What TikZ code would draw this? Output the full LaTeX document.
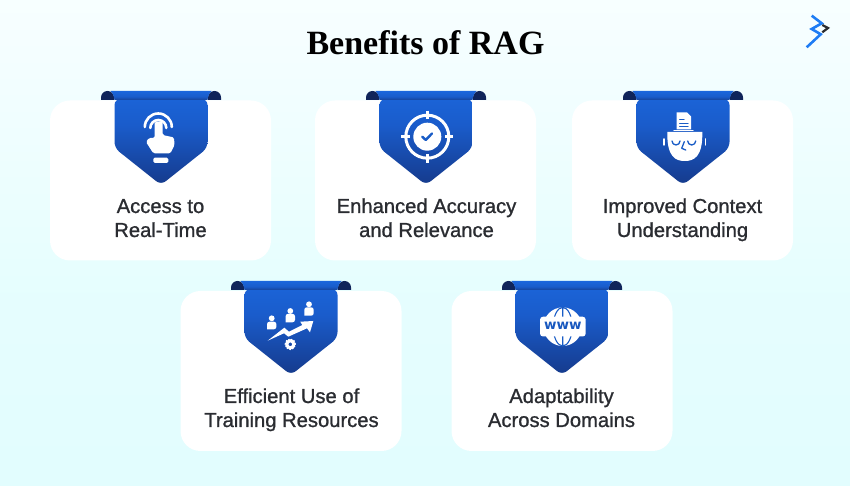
\documentclass[tikz,border=0pt]{standalone}
\usepackage{fontspec}
\setmainfont{Liberation Serif}
\newfontfamily\labelfont[FakeBold=1]{Liberation Sans}
\newfontfamily\wwwfont{DejaVu Sans}
\definecolor{ribbonblue}{HTML}{1C6FEA}
\definecolor{ribbonmid}{HTML}{1A5CCB}
\definecolor{ribbonlow}{HTML}{163F95}
\definecolor{ribbonnavy}{HTML}{10245A}
\definecolor{inkdark}{HTML}{2A2C31}
\definecolor{skytint}{HTML}{DDFDFE}
\definecolor{logoblue}{HTML}{1E7CF4}
\pgfdeclareverticalshading{ribbonfade}{100bp}{color(0bp)=(ribbonnavy); color(30bp)=(ribbonlow); color(60bp)=(ribbonmid); color(100bp)=(ribbonblue)}
\pgfdeclareverticalshading{barfade}{100bp}{color(0bp)=(ribbonnavy); color(45bp)=(ribbonmid); color(100bp)=(ribbonblue)}
\pgfdeclareverticalshading{pagefade}{100bp}{color(0bp)=(skytint); color(45bp)=(skytint!75!white); color(88bp)=(white); color(100bp)=(white)}
\tikzset{
  card/.style={rectangle, fill=white, draw=none, rounded corners=20pt, minimum width=221pt, minimum height=160pt, inner sep=0pt},
  cardlabel/.style={align=center, text=inkdark, font=\labelfont\fontsize{20.2}{24}\selectfont, inner sep=0pt, text height=37pt, text depth=5pt},
  icon/.style={fill=white, draw=none},
  iconline/.style={draw=white, line cap=round, line join=round},
  mark blue/.style={draw=ribbonblue!75!ribbonnavy, line cap=round, line join=round}
}
\newcommand{\ribbon}[2]{%
  \begin{scope}[shift={(#1,#2)}]
  \fill [ribbonnavy] (-60,-9) -- (-60,-6.5) arc (180:0:6.5) -- (-47,-9) -- cycle;
  \fill [ribbonnavy] (60,-9) -- (60,-6.5) arc (0:180:6.5) -- (47,-9) -- cycle;
  \shade [shading=ribbonfade, rounded corners=6pt] (-46.5,-8) -- (-46.5,-57) -- (0,-94) -- (46.5,-57) -- (46.5,-8) -- cycle;
  \shade [shading=barfade] (-50.5,0) -- (50.5,0) .. controls (48.5,-1.5) and (47,-5) .. (46.5,-9) -- (-46.5,-9) .. controls (-47,-5) and (-48.5,-1.5) .. (-50.5,0) -- cycle;
  \end{scope}}
\begin{document}
\begin{tikzpicture}[x=1pt,y=1pt]
\useasboundingbox (0,0) rectangle (850,486);
\shade [shading=pagefade] (0,0) rectangle (850,486);
\node [font=\bfseries\fontsize{34}{40}\selectfont, text=black, inner sep=0pt] (title) at (425.5,443) {Benefits of RAG};
% logo
\draw [draw=logoblue, line width=2.6pt, line join=miter] (811.7,470.3) -- (821.7,462.7) -- (811.7,457) -- (820.7,451.7) -- (806.7,438.7);
\draw [draw=inkdark, line width=2.2pt] (822.3,461) -- (828,458) -- (822.3,453.7);
% cards
\node [card] (card1) at (160.5,305.5) {};
\node [card] (card2) at (425.5,305.5) {};
\node [card] (card3) at (682.5,305.5) {};
\node [card] (card4) at (291,115) {};
\node [card] (card5) at (562,115) {};
% ribbons
\ribbon{161}{395}
\ribbon{426}{395}
\ribbon{683}{395}
\ribbon{291}{205}
\ribbon{562}{205}
% touch icon
\begin{scope}[shift={(161,395)}]
\draw [iconline, line width=2.6pt] (-16.2,-36) arc (180:0:13.5);
\draw [iconline, line width=2.6pt] (-10.7,-37) arc (180:0:8);
\fill [icon, rounded corners=1.5pt] (-6.3,-47) -- (-6.3,-30.7) -- (1.7,-30.7) -- (1.7,-44) -- (13,-46.5) -- (13.5,-54) -- (9.5,-62.3) -- (-7.7,-62.3) -- (-15,-51) -- (-12,-47) -- cycle;
\fill [icon, rounded corners=1.5pt] (-7.7,-66.7) rectangle (7.3,-72);
\end{scope}
% target icon
\begin{scope}[shift={(426,395)}]
\draw [white, line width=3pt] (1.3,-45.7) circle (21.5);
\fill [icon] (1.3,-45.7) circle (14);
\draw [white, line width=3.5pt] (1.3,-19.7) -- (1.3,-28) (1.3,-63.4) -- (1.3,-71.7) (-24.7,-45.7) -- (-16.4,-45.7) (19,-45.7) -- (27.3,-45.7);
\draw [mark blue, line width=2.4pt] (-3.7,-45.7) -- (-0.3,-49) -- (6,-42.5);
\end{scope}
% head icon
\begin{scope}[shift={(683,395)}]
\fill [icon] (-6.3,-38.5) -- (-6.3,-21.3) -- (4,-21.3) -- (8,-25.5) -- (8,-38.5) -- cycle;
\draw [mark blue, line width=1pt] (-3.5,-29) -- (1,-29) (-3.5,-32.5) -- (5,-32.5) (-3.5,-36) -- (5,-36);
\draw [iconline, line width=1.2pt] (-9,-39.7) -- (10,-39.7);
\fill [icon] (-15.7,-41) -- (19.3,-41) .. controls (19.8,-66) and (11,-70) .. (1.8,-70) .. controls (-7.5,-70) and (-16.2,-66) .. (-15.7,-41) -- cycle;
\draw [iconline, line width=1.5pt] (-19,-48) -- (-19,-54) (22.5,-48) -- (22.5,-54);
\draw [mark blue, line width=1.3pt] (-11,-50) arc (180:360:4) (4.7,-50) arc (180:360:4) (1.3,-50.7) -- (-1.3,-57.3) -- (2.7,-59);
\end{scope}
% chart icon
\begin{scope}[shift={(291,205)}]
\fill [icon] (-19.3,-37.3) circle (2.9) (-0.7,-30) circle (2.9) (18,-23.3) circle (2.9);
\fill [icon, rounded corners=2.5pt] (-24,-48.3) -- (-24,-40.7) -- (-14.6,-40.7) -- (-14.6,-48.3) [sharp corners] -- cycle;
\fill [icon, rounded corners=2.5pt] (-5.4,-41.3) -- (-5.4,-32.8) -- (4,-32.8) -- (4,-41.3) [sharp corners] -- cycle;
\fill [icon, rounded corners=2.5pt] (13.3,-34.7) -- (13.3,-26.3) -- (22.7,-26.3) -- (22.7,-34.7) [sharp corners] -- cycle;
\fill [icon] (-23.3,-59.7) -- (-6.7,-46.7) -- (-2,-50.7) -- (11.3,-44) -- (9.3,-40.7) -- (22.3,-40) -- (19,-51.3) -- (16,-47.3) -- (-2.7,-55.7) -- (-7,-52.3) -- cycle;
\draw [white, line width=3pt] (-0.7,-63.3) circle (3.5);
\draw [white, line width=1.5pt, dash pattern=on 1.6pt off 1.15pt] (-0.7,-63.3) circle (5);
\end{scope}
% web icon
\begin{scope}[shift={(562,205)}]
\fill [icon] (0.7,-45.7) circle (19.3);
\draw [mark blue, line width=1.1pt] (0.7,-26.4) -- (0.7,-65) (0.7,-45.7) ellipse (9.5 and 19.3);
\fill [icon, rounded corners=3pt] (-22,-35.7) rectangle (23.7,-55.5);
\node [font=\wwwfont\bfseries\fontsize{13.5}{14}\selectfont, text=ribbonblue!70!ribbonnavy, inner sep=0pt] (webtext) at (0.9,-45.3) {www};
\end{scope}
% labels
\node [cardlabel] (label1) at (160.5,265) {Access to\\Real-Time};
\node [cardlabel] (label2) at (426.5,265) {Enhanced Accuracy\\and Relevance};
\node [cardlabel] (label3) at (682.5,265) {Improved Context\\Understanding};
\node [cardlabel] (label4) at (291.5,75) {Efficient Use of\\Training Resources};
\node [cardlabel] (label5) at (561.5,75) {Adaptability\\Across Domains};
\end{tikzpicture}
\end{document}
